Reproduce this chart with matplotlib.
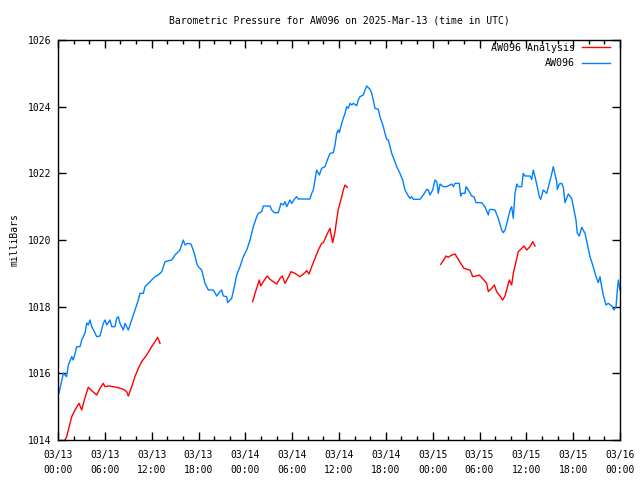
import matplotlib
matplotlib.use('Agg')
import matplotlib.pyplot as plt

# Hours since 2025-03-13 00:00 UTC, pressure in millibars
obs_hours = [0.13, 0.68, 1.11, 1.32, 1.76, 1.96, 2.40, 2.82, 3.04, 3.46, 3.68, 3.88, 4.10, 4.32,
             4.74, 4.96, 5.38, 5.80, 6.02, 6.24, 6.66, 6.88, 7.30, 7.52, 7.73, 7.94, 8.37, 8.58,
             9.01, 9.44, 9.86, 10.29, 10.51, 10.93, 11.15, 11.57, 12.00, 12.43, 12.85, 13.29,
             13.71, 14.57, 14.99, 15.63, 16.05, 16.27, 16.62, 17.04, 17.46, 17.77, 17.97, 18.41,
             18.83, 19.26, 19.90, 20.33, 20.75, 20.97, 21.18, 21.61, 21.74, 22.25, 22.68, 22.89,
             23.32, 23.74, 24.18, 24.60, 25.02, 25.46, 25.66, 26.10, 26.30, 27.16, 27.38, 27.71,
             28.22, 28.57, 28.86, 29.08, 29.30, 29.72, 29.94, 30.36, 30.58, 30.79, 32.28, 32.50,
             32.71, 32.93, 33.14, 33.48, 33.78, 34.21, 34.42, 34.85, 35.27, 35.49, 35.71, 35.91,
             36.04, 36.35, 36.55, 36.77, 36.99, 37.19, 37.41, 37.63, 37.83, 38.27, 38.47, 38.69,
             39.11, 39.33, 39.55, 39.97, 40.19, 40.39, 40.61, 41.03, 41.25, 41.47, 41.68, 41.89,
             42.11, 42.32, 42.53, 42.75, 43.17, 43.39, 43.81, 44.16, 44.46, 44.88, 45.10, 45.31,
             45.52, 46.38, 46.80, 47.24, 47.44, 47.66, 48.00, 48.30, 48.52, 48.72, 48.94, 49.36,
             49.80, 50.44, 50.64, 50.86, 51.41, 51.59, 51.72, 52.14, 52.27, 52.56, 53.00, 53.30,
             53.55, 54.28, 54.70, 55.13, 55.26, 55.47, 55.98, 56.41, 56.84, 57.05, 57.27, 57.56,
             57.91, 58.12, 58.33, 58.55, 58.77, 58.97, 59.41, 59.61, 59.83, 60.47, 60.69, 60.89,
             61.11, 61.40, 61.66, 61.84, 62.17, 62.61, 62.94, 63.25, 63.45, 63.67, 63.89, 63.97,
             64.22, 64.53, 64.74, 64.95, 65.17, 65.38, 65.81, 66.11, 66.36, 66.53, 66.79, 67.09,
             67.52, 67.94, 68.16, 68.50, 68.93, 69.22, 69.44, 69.65, 69.86, 70.20, 70.50, 70.94,
             71.23, 71.49, 71.66, 71.79, 72.00]
obs_mbar = [1015.41, 1016.00, 1015.90, 1016.25, 1016.50, 1016.40, 1016.80, 1016.80, 1017.00, 1017.21,
            1017.51, 1017.45, 1017.60, 1017.40, 1017.21, 1017.10, 1017.12, 1017.50, 1017.60, 1017.45,
            1017.60, 1017.40, 1017.40, 1017.65, 1017.70, 1017.50, 1017.30, 1017.50, 1017.30, 1017.60,
            1017.90, 1018.20, 1018.40, 1018.40, 1018.60, 1018.70, 1018.80, 1018.90, 1018.95, 1019.05,
            1019.35, 1019.40, 1019.55, 1019.70, 1020.00, 1019.85, 1019.90, 1019.88, 1019.60, 1019.30,
            1019.20, 1019.10, 1018.70, 1018.50, 1018.50, 1018.32, 1018.45, 1018.50, 1018.32, 1018.30,
            1018.12, 1018.25, 1018.70, 1018.95, 1019.20, 1019.50, 1019.70, 1020.00, 1020.40, 1020.70,
            1020.80, 1020.85, 1021.02, 1021.02, 1020.90, 1020.82, 1020.82, 1021.10, 1021.05, 1021.15,
            1021.00, 1021.20, 1021.10, 1021.25, 1021.30, 1021.23, 1021.23, 1021.40, 1021.50, 1021.80,
            1022.10, 1021.95, 1022.15, 1022.20, 1022.35, 1022.60, 1022.62, 1022.85, 1023.20, 1023.30,
            1023.22, 1023.50, 1023.65, 1023.80, 1024.00, 1023.95, 1024.10, 1024.05, 1024.10, 1024.03,
            1024.20, 1024.30, 1024.35, 1024.50, 1024.62, 1024.52, 1024.40, 1024.20, 1023.95, 1023.92,
            1023.70, 1023.55, 1023.40, 1023.20, 1023.02, 1023.00, 1022.80, 1022.60, 1022.35, 1022.20,
            1022.00, 1021.80, 1021.50, 1021.32, 1021.25, 1021.30, 1021.22, 1021.22, 1021.35, 1021.52,
            1021.50, 1021.35, 1021.50, 1021.80, 1021.75, 1021.40, 1021.68, 1021.60, 1021.60, 1021.68,
            1021.60, 1021.70, 1021.70, 1021.32, 1021.40, 1021.40, 1021.60, 1021.50, 1021.32, 1021.30,
            1021.12, 1021.12, 1021.00, 1020.75, 1020.90, 1020.92, 1020.90, 1020.65, 1020.30, 1020.22,
            1020.30, 1020.55, 1020.90, 1021.00, 1020.65, 1021.40, 1021.68, 1021.60, 1021.60, 1022.00,
            1021.92, 1021.92, 1021.82, 1022.10, 1021.90, 1021.60, 1021.30, 1021.22, 1021.50, 1021.40,
            1021.70, 1021.98, 1022.20, 1021.98, 1021.75, 1021.52, 1021.68, 1021.70, 1021.58, 1021.12,
            1021.25, 1021.38, 1021.25, 1020.90, 1020.60, 1020.20, 1020.12, 1020.38, 1020.20, 1019.75,
            1019.50, 1019.25, 1018.90, 1018.72, 1018.90, 1018.60, 1018.35, 1018.05, 1018.10, 1018.02,
            1017.90, 1018.00, 1018.50, 1018.80, 1018.50]

# Analysis comes in three separate runs
ana1_hours = [0.90, 1.11, 1.32, 1.76, 2.18, 2.69, 3.04, 3.37, 3.88, 4.32, 4.96, 5.38, 5.80, 6.02,
              6.44, 7.08, 7.73, 8.37, 8.80, 9.01, 9.44, 9.86, 10.29, 10.72, 11.36, 12.00, 12.43,
              12.77, 13.07]
ana1_mbar = [1014.00, 1014.10, 1014.30, 1014.70, 1014.90, 1015.10, 1014.90, 1015.20, 1015.58, 1015.48,
             1015.35, 1015.55, 1015.70, 1015.60, 1015.62, 1015.60, 1015.57, 1015.52, 1015.45, 1015.32,
             1015.60, 1015.90, 1016.15, 1016.35, 1016.55, 1016.80, 1016.95, 1017.08, 1016.90]
ana2_hours = [24.94, 25.24, 25.66, 25.79, 25.97, 26.30, 26.81, 27.16, 27.58, 28.02, 28.44, 28.74,
              29.08, 29.50, 29.85, 30.36, 31.00, 31.64, 31.86, 32.16, 32.50, 32.93, 33.35, 33.78,
              33.99, 34.33, 34.63, 34.85, 34.94, 35.19, 35.49, 35.71, 35.91, 36.35, 36.55, 36.77,
              37.06]
ana2_mbar = [1018.15, 1018.40, 1018.70, 1018.80, 1018.62, 1018.75, 1018.92, 1018.82, 1018.75, 1018.68,
             1018.85, 1018.92, 1018.70, 1018.88, 1019.05, 1019.00, 1018.90, 1019.02, 1019.08, 1018.98,
             1019.20, 1019.45, 1019.70, 1019.90, 1019.92, 1020.10, 1020.25, 1020.35, 1020.22, 1019.92,
             1020.25, 1020.62, 1020.92, 1021.30, 1021.50, 1021.65, 1021.58]
ana3_hours = [49.03, 49.36, 49.71, 50.00, 50.44, 50.86, 51.28, 51.59, 52.01, 52.44, 52.78, 53.13,
              53.55, 53.97, 54.49, 54.92, 55.13, 55.56, 55.89, 56.20, 56.63, 56.97, 57.27, 57.49,
              57.82, 58.12, 58.33, 58.68, 58.97, 59.41, 59.70, 60.05, 60.47, 60.82, 61.11]
ana3_mbar = [1019.27, 1019.38, 1019.52, 1019.48, 1019.55, 1019.58, 1019.42, 1019.30, 1019.15, 1019.12,
             1019.10, 1018.90, 1018.92, 1018.95, 1018.82, 1018.70, 1018.45, 1018.55, 1018.65, 1018.45,
             1018.32, 1018.20, 1018.32, 1018.52, 1018.80, 1018.65, 1019.00, 1019.35, 1019.65, 1019.75,
             1019.82, 1019.70, 1019.80, 1019.95, 1019.82]

tick_hours = list(range(0, 73, 6))
tick_labels = ['03/13\n00:00', '03/13\n06:00', '03/13\n12:00', '03/13\n18:00',
               '03/14\n00:00', '03/14\n06:00', '03/14\n12:00', '03/14\n18:00',
               '03/15\n00:00', '03/15\n06:00', '03/15\n12:00', '03/15\n18:00',
               '03/16\n00:00']

plt.rcParams['font.family'] = 'DejaVu Sans Mono'
plt.rcParams['font.size'] = 7

fig = plt.figure(figsize=(6.4, 4.8), dpi=100)
ax = fig.add_axes([58 / 640, 40 / 480, 562 / 640, 400 / 480])

red = '#ff0000'
blue = '#0080ff'
ax.plot(ana1_hours, ana1_mbar, color=red, lw=1.0, label='AW096 Analysis')
ax.plot(ana2_hours, ana2_mbar, color=red, lw=1.0)
ax.plot(ana3_hours, ana3_mbar, color=red, lw=1.0)
ax.plot(obs_hours, obs_mbar, color=blue, lw=1.0, label='AW096')

ax.set_xlim(0, 72)
ax.set_ylim(1014, 1026)
ax.set_xticks(tick_hours)
ax.set_xticklabels(tick_labels, linespacing=1.6)
ax.set_xticks(range(0, 73, 2), minor=True)
ax.set_yticks(range(1014, 1027, 2))
ax.tick_params(direction='in', top=True, right=True, length=6, width=1)
ax.tick_params(which='minor', direction='in', top=True, right=False, length=3, width=1)
ax.tick_params(axis='x', pad=7)
ax.tick_params(axis='y', pad=5)
for s in ax.spines.values():
    s.set_linewidth(1.0)

ax.set_title('Barometric Pressure for AW096 on 2025-Mar-13 (time in UTC)', fontsize=7, pad=12)
ax.set_ylabel('milliBars', labelpad=6)

ax.legend(loc='upper right', bbox_to_anchor=(0.9897, 1.0025), frameon=False, markerfirst=False,
          handlelength=2.8, handletextpad=0.7, labelspacing=0.55, borderaxespad=0, fontsize=7.2)

plt.savefig('out.png', dpi=100)
